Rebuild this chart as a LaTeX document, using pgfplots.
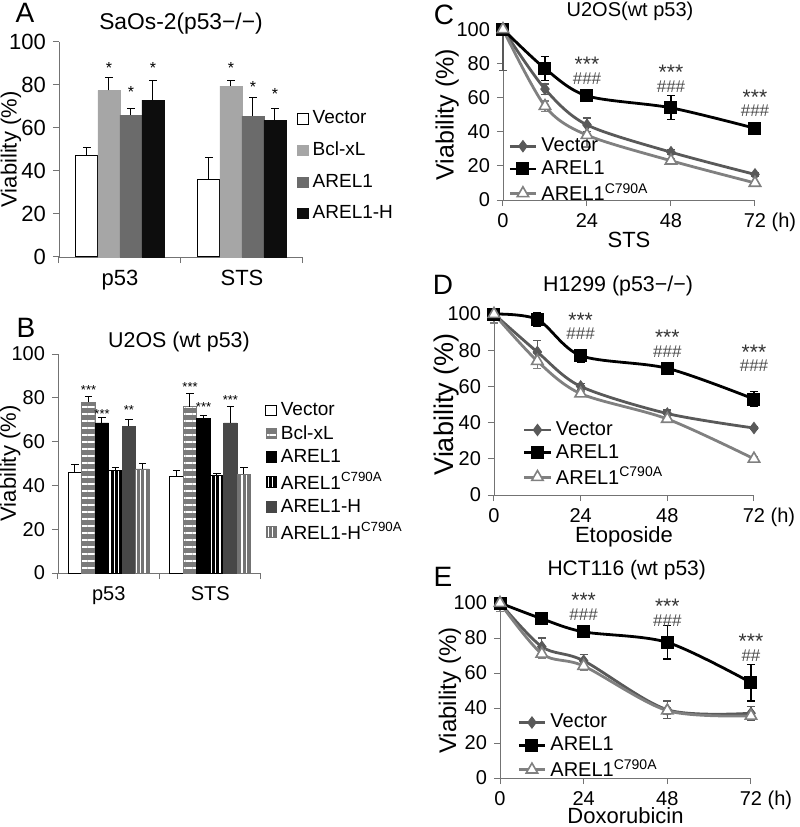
\documentclass[border=0pt]{standalone}
\usepackage{fontspec}
\setmainfont{Liberation Sans}
\usepackage{pgfplots}
\pgfplotsset{compat=1.18}
\usetikzlibrary{patterns.meta}

\tikzset{
 stars/.style={font=\fontsize{10.5}{10}\selectfont, inner sep=0pt, anchor=base, yshift=-2.3pt, text=black!80},
 hashes/.style={font=\fontsize{8.5}{8}\selectfont, inner sep=0pt, anchor=center, text=black!70},
}

\pgfplotsset{
 panel/.style={
  scale only axis, anchor=south west, axis lines*=left,
  axis line style={black!55}, tick style={black!55, line width=0.5pt},
  tick align=outside, major tick length=3pt,
  ymin=0, ymax=100, ytick={0,20,40,60,80,100},
  /pgf/number format/assume math mode=true,
  tick label style={font=\fontsize{10}{12}\selectfont},
  label style={font=\fontsize{11}{13}\selectfont},
  title style={font=\fontsize{11}{13}\selectfont},
  clip=false,
 },
 sqleg/.style={legend image code/.code={\draw[##1] (0pt,-2.6pt) rectangle (5.2pt,2.6pt);}},
 errp/.style={error bars/.cd, y dir=plus, y explicit,
   error bar style={black,line width=0.5pt,solid},
   error mark options={black,rotate=90,mark size=1.8pt,line width=0.5pt}},
 errb/.style={error bars/.cd, y dir=both, y explicit,
   error bar style={#1,line width=0.6pt,solid},
   error mark options={#1,rotate=90,mark size=2pt,line width=0.6pt}},
 vecline/.style={black!65, line width=1.4pt, smooth, mark=diamond*, mark size=2.8pt,
   mark options={fill=black!65, draw=black!65, solid, line width=0.5pt}, errb=black!65},
 arline/.style={black, line width=1.4pt, smooth, mark=square*, mark size=3pt,
   mark options={fill=black, draw=black, solid, line width=0.5pt}, errb=black},
 c7line/.style={black!50, line width=1.4pt, smooth, mark=triangle*, mark size=3.3pt,
   mark options={fill=white, draw=black!50, solid, line width=0.8pt}, errb=black!50},
 lineaxis/.style={panel, xmin=0, xmax=72, xtick={0,24,48,72},
   xticklabels={0,24,48,{72\rlap{\ (h)}}},
   ylabel={Viability (\%)},
   legend cell align=left,
   legend image code/.code={\draw[mark repeat=2,mark phase=2,##1] plot coordinates {(0cm,0cm) (0.23cm,0cm) (0.46cm,0cm)};},
   legend style={draw=none, fill=none, inner sep=0pt, row sep=-1pt, font=\fontsize{10}{11.5}\selectfont},
 },
}

\begin{document}
\begin{tikzpicture}
\path[use as bounding box] (0,0) rectangle (400pt,413.5pt);

% panel letters
\node[font=\fontsize{14}{14}\selectfont] at (12.5pt,407pt) {A};
\node[font=\fontsize{14}{14}\selectfont] at (13pt,249.7pt) {B};
\node[font=\fontsize{14}{14}\selectfont] at (222pt,406pt) {C};
\node[font=\fontsize{14}{14}\selectfont] at (221.5pt,271pt) {D};
\node[font=\fontsize{14}{14}\selectfont] at (221.5pt,125pt) {E};

% ---------------- Panel A ----------------
\begin{axis}[panel, at={(29.5pt,285pt)}, width=122pt, height=107.5pt,
  tick label style={font=\fontsize{11}{13}\selectfont},
  ybar=0pt, bar width=11pt, xmin=-0.5, xmax=1.5,
  xtick={-0.5,0.5,1.5}, x tick label as interval, xticklabels={p53,STS},
  ylabel={Viability (\%)}, ylabel style={at={(axis description cs:-0.197,0.5)}, anchor=center},
  title={SaOs-2(p53−/−)}, title style={font=\fontsize{11.4}{13}\selectfont, at={(axis description cs:0.5,1)}, anchor=center, yshift=3pt},
  legend cell align=left,
  legend style={at={(axis description cs:0.975,0.70)}, anchor=north west, draw=none, fill=none,
    inner sep=0pt, row sep=3.6pt, font=\fontsize{9.5}{11}\selectfont},
]
\addplot[fill=white, draw=black, line width=0.5pt, sqleg, errp] coordinates {(0,47) +- (0,4) (1,36) +- (0,10.5)};
\addplot[fill=black!35, draw=black!35, sqleg, errp] coordinates {(0,77.5) +- (0,6) (1,79.5) +- (0,2.5)};
\addplot[fill=black!58, draw=black!58, sqleg, errp] coordinates {(0,66) +- (0,3) (1,65.5) +- (0,8.5)};
\addplot[fill=black!95, draw=black!95, sqleg, errp] coordinates {(0,73) +- (0,9) (1,63.5) +- (0,5.5)};
\legend{Vector,Bcl-xL,AREL1,AREL1-H}
\node[font=\fontsize{8}{8}\selectfont] at (axis cs:-0.09,88) {*};
\node[font=\fontsize{8}{8}\selectfont] at (axis cs:0.09,76.6) {*};
\node[font=\fontsize{8}{8}\selectfont] at (axis cs:0.27,88) {*};
\node[font=\fontsize{8}{8}\selectfont] at (axis cs:0.91,88) {*};
\node[font=\fontsize{8}{8}\selectfont] at (axis cs:1.09,79) {*};
\node[font=\fontsize{8}{8}\selectfont] at (axis cs:1.27,75.7) {*};
\end{axis}

% ---------------- Panel B ----------------
\begin{axis}[panel, at={(29pt,127pt)}, width=101.5pt, height=109.5pt,
  ybar=0pt, bar width=6.75pt, xmin=-0.5, xmax=1.5,
  xtick={-0.5,0.5,1.5}, x tick label as interval, xticklabels={p53,STS},
  ylabel={Viability (\%)}, ylabel style={at={(axis description cs:-0.236,0.5)}, anchor=center},
  title={U2OS (wt p53)}, title style={font=\fontsize{10.7}{13}\selectfont, at={(axis description cs:0.596,1)}, anchor=center, yshift=0pt},
  legend cell align=left,
  legend style={at={(axis description cs:1.02,0.80)}, anchor=north west, draw=none, fill=none,
    inner sep=0pt, row sep=-0.5pt, font=\fontsize{9.5}{11}\selectfont},
]
\addplot[fill=white, draw=black, line width=0.5pt, sqleg, errp] coordinates {(0,46) +- (0,3.5) (1,44) +- (0,3)};
\addplot[fill=black!52, draw=black!52, sqleg,
  postaction={pattern={Lines[angle=0,distance=3.5pt,line width=0.6pt]}, pattern color=white}, errp]
  coordinates {(0,78) +- (0,2.5) (1,76) +- (0,6)};
\addplot[fill=black, draw=black, sqleg, errp] coordinates {(0,68.5) +- (0,2.5) (1,70.5) +- (0,1.5)};
\addplot[fill=black, draw=black, sqleg,
  postaction={pattern={Lines[angle=90,distance=2.2pt,line width=0.7pt]}, pattern color=white}, errp]
  coordinates {(0,47) +- (0,1) (1,44.5) +- (0,1)};
\addplot[fill=black!72, draw=black!72, sqleg, errp] coordinates {(0,67) +- (0,3) (1,68.5) +- (0,7.5)};
\addplot[fill=black!55, draw=black!55, sqleg,
  postaction={pattern={Lines[angle=90,distance=2.2pt,line width=0.7pt]}, pattern color=white}, errp]
  coordinates {(0,47.5) +- (0,2.5) (1,45) +- (0,3)};
\legend{Vector,Bcl-xL,AREL1,AREL1\textsuperscript{C790A},AREL1-H,AREL1-H\textsuperscript{C790A}}
\node[font=\fontsize{6.5}{6.5}\selectfont] at (axis cs:-0.199,83.5) {***};
\node[font=\fontsize{6.5}{6.5}\selectfont] at (axis cs:-0.066,72.5) {***};
\node[font=\fontsize{6.5}{6.5}\selectfont] at (axis cs:0.199,74.3) {**};
\node[font=\fontsize{6.5}{6.5}\selectfont] at (axis cs:0.801,85) {***};
\node[font=\fontsize{6.5}{6.5}\selectfont] at (axis cs:0.934,76) {***};
\node[font=\fontsize{6.5}{6.5}\selectfont] at (axis cs:1.199,79) {***};
\end{axis}

% ---------------- Panel C ----------------
\begin{axis}[lineaxis, at={(251.5pt,313.5pt)}, width=126pt, height=85.35pt,
  ylabel style={font=\fontsize{12.5}{14}\selectfont, at={(axis description cs:-0.222,0.5)}, anchor=center},
  xlabel={STS}, xlabel style={at={(axis description cs:0.5,0)}, anchor=center, yshift=-20pt},
  title={U2OS(wt p53)}, title style={font=\fontsize{10}{12}\selectfont, at={(axis description cs:0.504,1)}, anchor=center, yshift=3pt},
  legend style={at={(axis description cs:0.02,0.39)}, anchor=north west},
]
\addplot[vecline] coordinates {(0,100) -= (0,24) (12,65) +- (0,3) (24,44) +- (0,4) (48,28) +- (0,1.5) (72,15) +- (0,1)};
\addplot[arline] coordinates {(0,100) (12,77) +- (0,7) (24,61) +- (0,1.5) (48,54) +- (0,7) (72,42) +- (0,1.5)};
\addplot[c7line] coordinates {(0,100) (12,55) +- (0,3) (24,38) +- (0,7) (48,23) +- (0,1) (72,10) +- (0,1)};
\legend{Vector,AREL1,AREL1\textsuperscript{C790A}}
\node[stars] at (axis cs:24,78) {***}; \node[hashes] at (axis cs:24,71) {\#\#\#};
\node[stars] at (axis cs:48,73) {***}; \node[hashes] at (axis cs:48,66.5) {\#\#\#};
\node[stars] at (axis cs:72,58.5) {***}; \node[hashes] at (axis cs:72,52.2) {\#\#\#};
\end{axis}

% ---------------- Panel D ----------------
\begin{axis}[lineaxis, at={(247pt,166pt)}, width=130pt, height=90.5pt,
  ylabel style={font=\fontsize{13.5}{15}\selectfont, at={(axis description cs:-0.181,0.5)}, anchor=center},
  xlabel={Etoposide}, xlabel style={at={(axis description cs:0.5,0)}, anchor=center, yshift=-21pt},
  title={H1299 (p53−/−)}, title style={font=\fontsize{10.7}{12}\selectfont, at={(axis description cs:0.477,1)}, anchor=center, yshift=8pt},
  legend style={at={(axis description cs:0.11,0.43)}, anchor=north west},
]
\addplot[vecline] coordinates {(0,100) (12,79) +- (0,6.5) (24,60) +- (0,1.5) (48,45) +- (0,2) (72,37) +- (0,1)};
\addplot[arline] coordinates {(0,100) (12,97) +- (0,4) (24,77) +- (0,3.5) (48,70) +- (0,2.5) (72,53) +- (0,4)};
\addplot[c7line] coordinates {(0,100) -= (0,5) (12,74) +- (0,4) (24,56) +- (0,1.5) (48,42) +- (0,1.5) (72,20) +- (0,1)};
\legend{Vector,AREL1,AREL1\textsuperscript{C790A}}
\node[stars] at (axis cs:24,95.2) {***}; \node[hashes] at (axis cs:24,89) {\#\#\#};
\node[stars] at (axis cs:48,85.6) {***}; \node[hashes] at (axis cs:48,79.4) {\#\#\#};
\node[stars] at (axis cs:72,77.3) {***}; \node[hashes] at (axis cs:72,71.2) {\#\#\#};
\end{axis}

% ---------------- Panel E ----------------
\begin{axis}[lineaxis, at={(250pt,24.5pt)}, width=125.5pt, height=87.5pt,
  ylabel style={font=\fontsize{12}{14}\selectfont, at={(axis description cs:-0.2,0.5)}, anchor=center},
  xlabel={Doxorubicin}, xlabel style={at={(axis description cs:0.5,0)}, anchor=center, yshift=-19pt},
  title={HCT116 (wt p53)}, title style={font=\fontsize{10.5}{12}\selectfont, at={(axis description cs:0.505,1)}, anchor=center, yshift=10.5pt},
  legend style={at={(axis description cs:0.068,0.39)}, anchor=north west},
]
\addplot[vecline] coordinates {(0,100) (12,75) +- (0,5) (24,67) +- (0,3.5) (48,39) +- (0,5) (72,37) +- (0,4)};
\addplot[arline] coordinates {(0,100) (12,91) +- (0,3.5) (24,83.5) +- (0,1) (48,77.5) +- (0,9.5) (72,54.5) +- (0,10.5)};
\addplot[c7line] coordinates {(0,100) -= (0,5) (12,71) +- (0,2.5) (24,64) +- (0,2.5) (48,38.5) +- (0,2) (72,35.5) +- (0,2)};
\legend{Vector,AREL1,AREL1\textsuperscript{C790A}}
\node[stars] at (axis cs:24,100) {***}; \node[hashes] at (axis cs:24,93.5) {\#\#\#};
\node[stars] at (axis cs:48,96.4) {***}; \node[hashes] at (axis cs:48,90) {\#\#\#};
\node[stars] at (axis cs:72,76.4) {***}; \node[hashes] at (axis cs:72,70) {\#\#};
\end{axis}
\end{tikzpicture}
\end{document}
